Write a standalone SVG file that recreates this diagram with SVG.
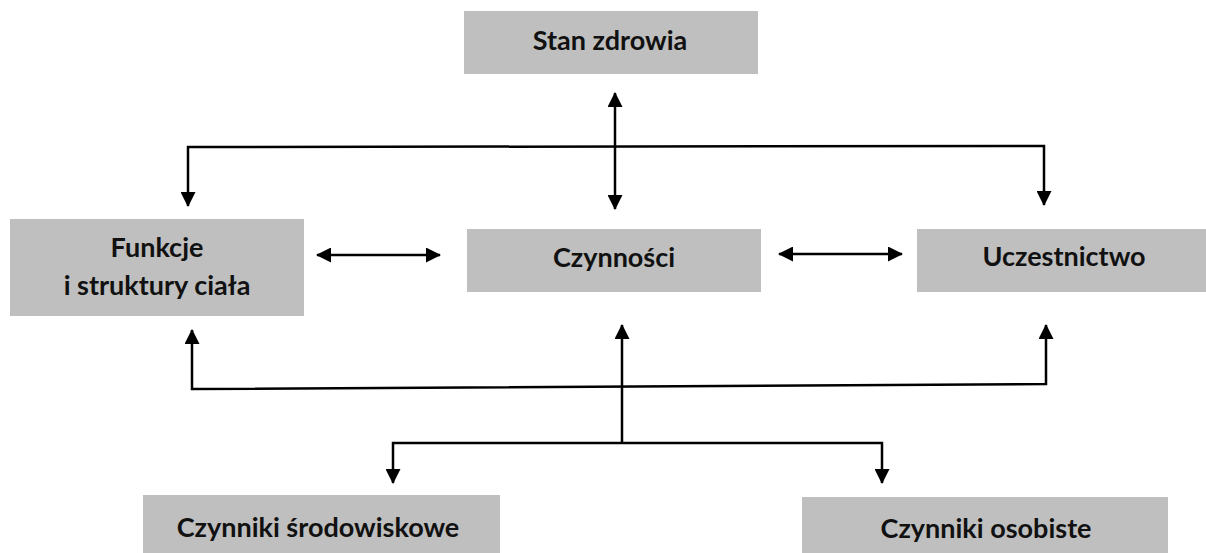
<svg xmlns="http://www.w3.org/2000/svg" width="1206" height="553" viewBox="0 0 1206 553">
<defs>
<style>
.box{fill:#bfbfbf;}
.lbl{font-family:Lato,"Liberation Sans",sans-serif;font-weight:bold;font-size:27px;fill:#111;text-anchor:middle;}
.ln{fill:none;stroke:#000;stroke-width:2.5;}
</style>
<marker id="ah" markerUnits="userSpaceOnUse" markerWidth="15" markerHeight="15" refX="14" refY="7.5" orient="auto-start-reverse" viewBox="0 0 15 15">
<path d="M0,0 L15,7.5 L0,15 z" fill="#000"/>
</marker>
</defs>
<rect width="1206" height="553" fill="#fff"/>
<g id="stan-zdrowia">
<rect class="box" x="464" y="11" width="294" height="63"/>
<text class="lbl" x="610" y="50">Stan zdrowia</text>
</g>
<g id="funkcje">
<rect class="box" x="10" y="219" width="294" height="97"/>
<text class="lbl" x="157" y="257">Funkcje</text>
<text class="lbl" x="157" y="295">i struktury ciała</text>
</g>
<g id="czynnosci">
<rect class="box" x="467" y="229" width="294" height="63"/>
<text class="lbl" x="614" y="267">Czynności</text>
</g>
<g id="uczestnictwo">
<rect class="box" x="917" y="229" width="294" height="63"/>
<text class="lbl" x="1064" y="266">Uczestnictwo</text>
</g>
<g id="czynniki-srodowiskowe">
<rect class="box" x="143" y="495" width="357" height="70"/>
<text class="lbl" x="318" y="537">Czynniki środowiskowe</text>
</g>
<g id="czynniki-osobiste">
<rect class="box" x="802" y="497" width="366" height="70"/>
<text class="lbl" x="986" y="538">Czynniki osobiste</text>
</g>
<g id="connectors">
<line class="ln" x1="615" y1="93" x2="615" y2="209" marker-start="url(#ah)" marker-end="url(#ah)"/>
<polyline class="ln" points="188,206 188,147 1044,146 1044,205" marker-start="url(#ah)" marker-end="url(#ah)"/>
<line class="ln" x1="317" y1="255" x2="440" y2="255" marker-start="url(#ah)" marker-end="url(#ah)"/>
<line class="ln" x1="779" y1="254" x2="902" y2="254" marker-start="url(#ah)" marker-end="url(#ah)"/>
<polyline class="ln" points="192,330 192,389 1046,384 1046,325" marker-start="url(#ah)" marker-end="url(#ah)"/>
<line class="ln" x1="622" y1="444" x2="622" y2="325" marker-end="url(#ah)"/>
<polyline class="ln" points="393,483 393,443 882,443 882,483" marker-start="url(#ah)" marker-end="url(#ah)"/>
</g>
</svg>
